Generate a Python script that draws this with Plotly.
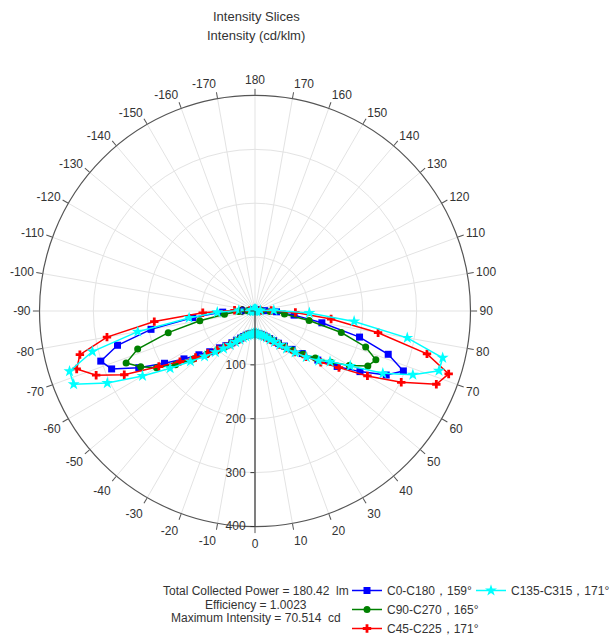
import plotly.graph_objects as go

# ---------------- data ----------------
ANGLES = [-180, -176, -172, -168, -164, -160, -156, -152, -148, -144, -140, -136, -132, -128, -124,
          -120, -116, -112, -108, -104, -100,
          -96, -92, -88, -84, -80, -76, -72, -68, -64, -60, -56, -52, -48, -44, -40, -36, -32, -28,
          -24, -20, -16, -12, -8, -4,
          0, 4, 8, 12, 16, 20, 24, 28, 32, 36, 40, 44, 48, 52, 56, 60, 64, 68, 72, 76, 80, 84, 88, 92, 96,
          100, 104, 108, 112, 116, 120, 124, 128, 132, 136, 140, 144, 148, 152, 156, 160, 164, 168, 172,
          176, 180]

C0_C180 = [2, 2, 2, 2, 2, 2, 2, 2, 2, 2, 2, 2, 2, 2, 2, 2, 2, 2, 3, 3, 4,
           8, 25, 60, 116, 196, 263, 301, 287, 240, 194, 159, 132, 113, 95, 84, 73, 64, 57,
           52, 48, 45, 43, 42, 42,
           42, 42, 43, 44, 46, 49, 53, 58, 65, 74, 85, 99, 118, 148, 184, 225, 271, 297, 260, 200, 126,
           73, 40, 18, 6,
           4, 3, 3, 2, 2, 2, 2, 2, 2, 2, 2, 2, 2, 2, 2, 2, 2, 2, 2, 2, 2]

C90_C270 = [2, 2, 2, 2, 2, 2, 2, 2, 2, 2, 2, 2, 2, 2, 2, 2, 2, 2, 2, 3, 3,
            5, 14, 30, 57, 104, 166, 229, 258, 236, 211, 178, 145, 120, 100, 86, 74, 65, 57,
            52, 48, 45, 43, 42, 42,
            42, 42, 43, 44, 46, 49, 53, 58, 65, 74, 86, 101, 120, 142, 170, 202, 233, 242, 216, 165, 102,
            55, 28, 12, 5,
            3, 3, 2, 2, 2, 2, 2, 2, 2, 2, 2, 2, 2, 2, 2, 2, 2, 2, 2, 2, 2]

C45_C225 = [2, 2, 2, 2, 2, 2, 2, 2, 2, 2, 2, 2, 2, 2, 2, 2, 2, 2, 3, 3, 4,
            10, 38, 97, 188, 279, 335, 348, 318, 270, 206, 168, 140, 118, 100, 87, 76, 66, 59,
            53, 49, 46, 44, 43, 42,
            42, 42, 43, 45, 47, 50, 54, 60, 67, 77, 90, 106, 127, 155, 188, 241, 302, 363, 378, 329, 232,
            142, 75, 30, 10,
            4, 3, 3, 2, 2, 2, 2, 2, 2, 2, 2, 2, 2, 2, 2, 2, 2, 2, 2, 2, 2]

C135_C315 = [2, 2, 2, 2, 2, 2, 2, 2, 2, 2, 2, 2, 2, 2, 2, 2, 2, 2, 3, 3, 4,
             8, 30, 70, 123, 221, 311, 362, 363, 305, 241, 190, 152, 126, 106, 91, 78, 68, 60,
             54, 50, 47, 45, 43, 42,
             42, 42, 43, 45, 47, 50, 54, 60, 68, 78, 91, 107, 128, 150, 168, 204, 264, 316, 359, 359, 287,
             185, 101, 35, 10,
             4, 3, 3, 2, 2, 2, 2, 2, 2, 2, 2, 2, 2, 2, 2, 2, 2, 2, 2, 2, 2]

SERIES_NAMES = ["C0-C180，159°", "C90-C270，165°", "C45-C225，171°", "C135-C315，171°"]
SERIES_COLORS = ["#0000FF", "#008000", "#FF0000", "#00FFFF"]
SERIES_SYMBOLS = ["square", "circle", "cross", "star"]
SERIES_SIZES = [7, 7, 7, 9]
SERIES_LEGENDS = ["legend", "legend", "legend", "legend2"]

ANG_TICKVALS = [0, 10, 20, 30, 40, 50, 60, 70, 80, 90, 100, 110, 120, 130, 140, 150, 160, 170, 180,
                190, 200, 210, 220, 230, 240, 250, 260, 270, 280, 290, 300, 310, 320, 330, 340, 350]
ANG_TICKTEXT = ["0", "10", "20", "30", "40", "50", "60", "70", "80", "90", "100", "110", "120", "130",
                "140", "150", "160", "170", "180", "-170", "-160", "-150", "-140", "-130", "-120",
                "-110", "-100", "-90", "-80", "-70", "-60", "-50", "-40", "-30", "-20", "-10"]
RAD_TICKVALS = [0, 100, 200, 300, 400]

TITLE_LINES = ["Intensity Slices", "Intensity (cd/klm)"]
INFO_LINES = ["Total Collected Power = 180.42  lm", "Efficiency = 1.0023", "Maximum Intensity = 70.514  cd"]

FONT = "Liberation Sans, Arial, sans-serif"
W, H = 610, 637

# ---------------- figure ----------------
fig = go.Figure()
all_series = [C0_C180, C90_C270, C45_C225, C135_C315]
for vals, name, col, sym, sz, lg in zip(all_series, SERIES_NAMES, SERIES_COLORS,
                                        SERIES_SYMBOLS, SERIES_SIZES, SERIES_LEGENDS):
    fig.add_trace(go.Scatterpolar(
        r=vals, theta=ANGLES, mode="lines+markers", name=name,
        line=dict(color=col, width=1.5),
        marker=dict(symbol=sym, size=sz, color=col, line=dict(width=0)),
        legend=lg,
    ))

cx, cy, R = 255, 311, 215.5
fig.update_layout(
    width=W, height=H,
    margin=dict(l=0, r=0, t=0, b=0, autoexpand=False),
    paper_bgcolor="white",
    font=dict(family=FONT, size=12, color="#333333"),
    polar=dict(
        domain=dict(x=[(cx - R) / W, (cx + R) / W], y=[1 - (cy + R) / H, 1 - (cy - R) / H]),
        bgcolor="white",
        angularaxis=dict(
            rotation=270, direction="counterclockwise",
            tickmode="array", tickvals=ANG_TICKVALS, ticktext=ANG_TICKTEXT,
            showline=True, linecolor="#555555", linewidth=1.2,
            ticks="outside", ticklen=6, tickcolor="#555555",
            gridcolor="#e3e3e3", gridwidth=1,
            tickfont=dict(size=12, color="#333333"),
        ),
        radialaxis=dict(
            range=[0, 400], tickmode="array", tickvals=RAD_TICKVALS,
            angle=270, side="clockwise", tickangle=-90,
            showline=True, linecolor="#333333", linewidth=1.2,
            ticks="outside", ticklen=4, tickcolor="#333333",
            gridcolor="#e3e3e3", gridwidth=1,
            tickfont=dict(size=12, color="#333333"),
        ),
    ),
    legend=dict(x=347 / W, y=1 - 576 / H, xanchor="left", yanchor="top",
                orientation="v", bgcolor="rgba(0,0,0,0)", tracegroupgap=0,
                font=dict(family=FONT, size=12, color="#333333")),
    legend2=dict(x=471 / W, y=1 - 576 / H, xanchor="left", yanchor="top",
                 orientation="v", bgcolor="rgba(0,0,0,0)",
                 font=dict(family=FONT, size=12, color="#333333")),
    showlegend=True,
)

for i, txt in enumerate(TITLE_LINES):
    fig.add_annotation(text=txt, xref="paper", yref="paper", x=256 / W, y=1 - (17 + i * 18) / H,
                       xanchor="center", yanchor="middle", showarrow=False,
                       font=dict(family=FONT, size=13, color="#333333"))

for i, txt in enumerate(INFO_LINES):
    fig.add_annotation(text=txt, xref="paper", yref="paper", x=256 / W, y=1 - (591 + i * 13.5) / H,
                       xanchor="center", yanchor="middle", showarrow=False,
                       font=dict(family=FONT, size=12, color="#333333"))

fig.write_html("out.html", config={"displayModeBar": False},
               post_script="document.body.style.margin='0px';document.body.style.overflow='hidden';")
